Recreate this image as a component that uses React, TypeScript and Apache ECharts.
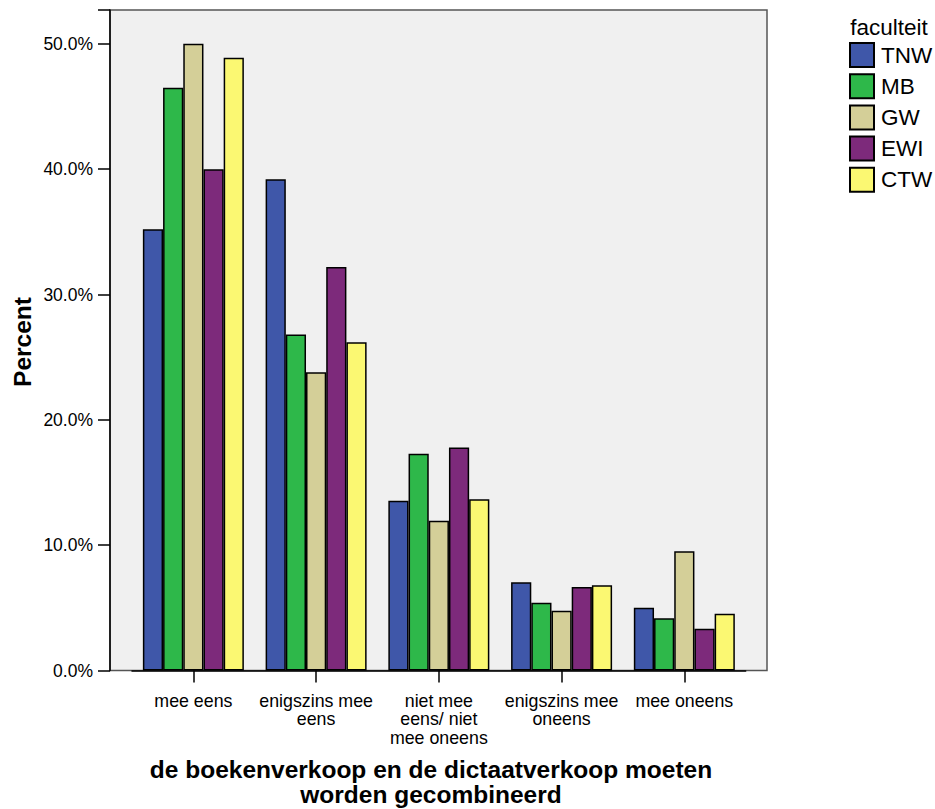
import React, { useEffect, useRef } from "react";
import * as echarts from "echarts";

const categories = [
  "mee eens",
  "enigszins mee\neens",
  "niet mee\neens/ niet\nmee oneens",
  "enigszins mee\noneens",
  "mee oneens",
];
const seriesNames = ["TNW", "MB", "GW", "EWI", "CTW"];
const tnw = [35.2, 39.2, 13.55, 7.04, 5.01];
const mb = [46.5, 26.8, 17.3, 5.41, 4.17];
const gw = [50.0, 23.8, 11.95, 4.77, 9.51];
const ewi = [40.0, 32.2, 17.8, 6.66, 3.34];
const ctw = [48.9, 26.2, 13.66, 6.8, 4.53];
const colors = ["#3f57a9", "#2eb84a", "#d4cf98", "#7d2a7b", "#fbf872"];
const yTicks = [0, 10, 20, 30, 40, 50];

const FONT = "'Liberation Sans', Arial, sans-serif";

export default function App() {
  const ref = useRef<HTMLDivElement>(null);
  useEffect(() => {
    if (!ref.current) return;
    const chart = echarts.init(ref.current, null, { renderer: "svg" });
    const values = [tnw, mb, gw, ewi, ctw];
    chart.setOption({
      animation: false,
      backgroundColor: "#ffffff",
      textStyle: { fontFamily: FONT, color: "#000" },
      grid: { left: 132, right: 189.3, top: 10, bottom: 138.5, containLabel: false },
      graphic: [
        {
          type: "rect",
          z: -10,
          shape: { x: 110, y: 10, width: 657, height: 660.5 },
          style: { fill: "#f0f0f0", stroke: "#555", lineWidth: 1.5 },
        },
        {
          type: "text",
          x: 889,
          y: 27,
          style: {
            text: "faculteit",
            font: `22.5px ${FONT}`,
            fill: "#000",
            align: "center",
            verticalAlign: "middle",
          },
        },
        {
          type: "text",
          x: 431,
          y: 757,
          style: {
            text: "de boekenverkoop en de dictaatverkoop moeten\nworden gecombineerd",
            font: `bold 24.5px ${FONT}`,
            lineHeight: 25,
            fill: "#000",
            align: "center",
            verticalAlign: "top",
          },
        },
        {
          type: "text",
          x: 22,
          y: 342,
          rotation: Math.PI / 2,
          style: {
            text: "Percent",
            font: `bold 24.5px ${FONT}`,
            fill: "#000",
            align: "center",
            verticalAlign: "middle",
          },
        },
      ],
      legend: {
        orient: "vertical",
        left: 849,
        top: 42,
        padding: 0,
        itemWidth: 24,
        itemHeight: 24,
        itemGap: 5.2,
        icon: "rect",
        data: seriesNames,
        textStyle: {
          fontSize: 22.5,
          lineHeight: 24,
          fontFamily: FONT,
          color: "#000",
          padding: [0, 0, 0, 2],
        },
      },
      xAxis: {
        type: "category",
        data: categories,
        axisLine: { show: true, lineStyle: { color: "#000", width: 1.5 } },
        axisTick: { show: true, alignWithLabel: true, length: 12, lineStyle: { color: "#000", width: 1.5 } },
        axisLabel: {
          fontSize: 17.8,
          lineHeight: 18.6,
          margin: 21,
          color: "#000",
          fontFamily: FONT,
          interval: 0,
          align: "center",
        },
      },
      yAxis: {
        type: "value",
        min: 0,
        max: 52.7,
        interval: 10,
        offset: 22,
        splitLine: { show: false },
        axisLine: { show: true, lineStyle: { color: "#000", width: 1.5 } },
        axisTick: { show: true, length: 12, lineStyle: { color: "#000", width: 1.5 } },
        axisLabel: {
          fontSize: 17.5,
          margin: 17,
          color: "#000",
          fontFamily: FONT,
          customValues: yTicks,
          formatter: (v: number) => v.toFixed(1) + "%",
        },
      },
      series: seriesNames.map((name, i) => ({
        name,
        type: "bar",
        data: values[i],
        barWidth: 20.2,
        barGap: "0%",
        itemStyle: { color: colors[i], borderColor: "#000", borderWidth: 1.5 },
      })),
    });
    return () => chart.dispose();
  }, []);
  return (
    <div
      ref={ref}
      style={{ position: "absolute", left: 0, top: 0, width: 935, height: 809 }}
    />
  );
}
